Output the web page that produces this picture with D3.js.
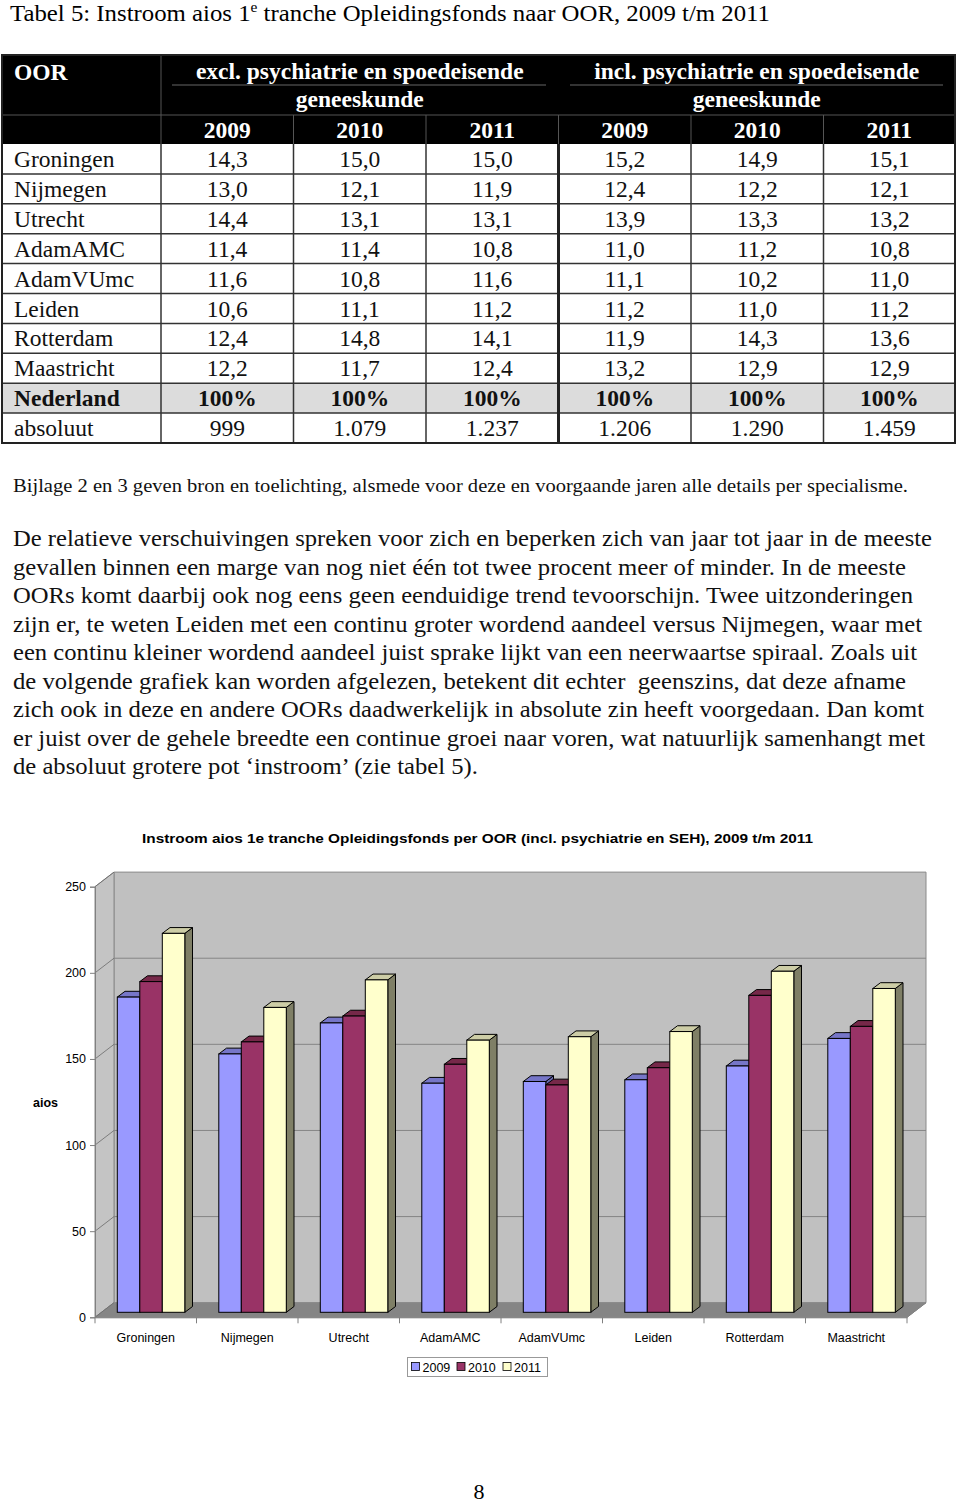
<!DOCTYPE html>
<html><head><meta charset="utf-8">
<script src="https://cdn.jsdelivr.net/npm/d3@7"></script>
<style>
html,body{margin:0;padding:0;background:#fff;}
svg{display:block;}
text{white-space:pre;}
.serif{font-family:"Liberation Serif","Times New Roman",Times,serif;}
.sans{font-family:"Liberation Sans",Arial,Helvetica,sans-serif;}
</style>
</head><body>
<script>
// ---------- DATA ----------
const oorNames = ["Groningen","Nijmegen","Utrecht","AdamAMC","AdamVUmc","Leiden","Rotterdam","Maastricht"];
const yearLabels = ["2009","2010","2011"];
const excl2009 = [14.3,13.0,14.4,11.4,11.6,10.6,12.4,12.2];
const excl2010 = [15.0,12.1,13.1,11.4,10.8,11.1,14.8,11.7];
const excl2011 = [15.0,11.9,13.1,10.8,11.6,11.2,14.1,12.4];
const incl2009 = [15.2,12.4,13.9,11.0,11.1,11.2,11.9,13.2];
const incl2010 = [14.9,12.2,13.3,11.2,10.2,11.0,14.3,12.9];
const incl2011 = [15.1,12.1,13.2,10.8,11.0,11.2,13.6,12.9];
const absoluut = [999,1079,1237,1206,1290,1459];
// chart: instroom aios (incl. psychiatrie en SEH), absolute counts
const aios2009 = [183,150,168,133,134,135,143,159];
const aios2010 = [192,157,172,144,132,142,184,166];
const aios2011 = [220,177,193,158,160,163,198,188];
const yTicks = [0,50,100,150,200,250];

const paraLines = [
 "De relatieve verschuivingen spreken voor zich en beperken zich van jaar tot jaar in de meeste",
 "gevallen binnen een marge van nog niet één tot twee procent meer of minder. In de meeste",
 "OORs komt daarbij ook nog eens geen eenduidige trend tevoorschijn. Twee uitzonderingen",
 "zijn er, te weten Leiden met een continu groter wordend aandeel versus Nijmegen, waar met",
 "een continu kleiner wordend aandeel juist sprake lijkt van een neerwaartse spiraal. Zoals uit",
 "de volgende grafiek kan worden afgelezen, betekent dit echter  geenszins, dat deze afname",
 "zich ook in deze en andere OORs daadwerkelijk in absolute zin heeft voorgedaan. Dan komt",
 "er juist over de gehele breedte een continue groei naar voren, wat natuurlijk samenhangt met",
 "de absoluut grotere pot ‘instroom’ (zie tabel 5)."
];
const paraEnds = [932,906,913,922,917,906,924,925,478];

// ---------- SETUP ----------
const W = 960, H = 1505;
const svg = d3.select("body").append("svg").attr("width", W).attr("height", H);
svg.append("rect").attr("width", W).attr("height", H).attr("fill", "#fff");

const nl = d3.formatLocale({decimal: ",", thousands: ".", grouping: [3], currency: ["€", ""]});
const fPct = nl.format(".1f");
const fAbs = nl.format(",d");

// ---------- TITLE ----------
const t = svg.append("text").attr("class", "serif").attr("x", 10).attr("y", 21)
  .attr("font-size", 22.5).attr("fill", "#000")
  .attr("textLength", 760).attr("lengthAdjust", "spacingAndGlyphs");
t.append("tspan").text("Tabel 5: Instroom aios 1");
t.append("tspan").attr("font-size", 14).attr("dy", -9).text("e");
t.append("tspan").attr("dy", 9).text(" tranche Opleidingsfonds naar OOR, 2009 t/m 2011");

// ---------- TABLE ----------
const colX = [2,161,293.5,426,558.5,691,823.5,955];
const tTop = 55, tSplit = 115, dataTop = 144, rowH = 29.9;
const nRows = oorNames.length + 2;
const tBottom = dataTop + rowH * nRows;
const table = svg.append("g");

table.append("rect").attr("x", colX[0]).attr("y", tTop).attr("width", colX[7]-colX[0]).attr("height", dataTop - tTop).attr("fill", "#000");
table.append("line").attr("x1", colX[1]).attr("x2", colX[1]).attr("y1", tTop).attr("y2", dataTop).attr("stroke", "#555").attr("stroke-width", 1);
table.append("line").attr("x1", colX[0]).attr("x2", colX[7]).attr("y1", tSplit).attr("y2", tSplit).attr("stroke", "#555").attr("stroke-width", 1);
[2,3,4,5,6].forEach(i => table.append("line").attr("x1", colX[i]).attr("x2", colX[i]).attr("y1", tSplit).attr("y2", dataTop).attr("stroke", "#555").attr("stroke-width", 1));
table.append("line").attr("x1", 172).attr("x2", 546).attr("y1", 85).attr("y2", 85).attr("stroke", "#666").attr("stroke-width", 1);
table.append("line").attr("x1", 570).attr("x2", 943).attr("y1", 85).attr("y2", 85).attr("stroke", "#666").attr("stroke-width", 1);

function htext(x, y, s, anchor) {
  table.append("text").attr("class", "serif").attr("x", x).attr("y", y).attr("text-anchor", anchor || "middle")
    .attr("font-size", 23.5).attr("font-weight", "bold").attr("fill", "#fff").text(s);
}
htext(14, 80, "OOR", "start");
htext((colX[1]+colX[4])/2, 79, "excl. psychiatrie en spoedeisende");
htext((colX[1]+colX[4])/2, 107, "geneeskunde");
htext((colX[4]+colX[7])/2, 79, "incl. psychiatrie en spoedeisende");
htext((colX[4]+colX[7])/2, 107, "geneeskunde");
for (let i = 0; i < 6; i++) htext((colX[i+1]+colX[i+2])/2, 138, yearLabels[i % 3]);

table.append("rect").attr("x", colX[0]).attr("y", dataTop + rowH*8).attr("width", colX[7]-colX[0]).attr("height", rowH).attr("fill", "#dcdcdc");

const cols = [excl2009, excl2010, excl2011, incl2009, incl2010, incl2011];
function cell(x, y, s, anchor, bold) {
  table.append("text").attr("class", "serif").attr("x", x).attr("y", y).attr("text-anchor", anchor)
    .attr("font-size", 23.5).attr("font-weight", bold ? "bold" : "normal").attr("fill", "#111").text(s);
}
oorNames.forEach((n, r) => {
  const yb = dataTop + rowH*r + 23;
  cell(14, yb, n, "start");
  cols.forEach((c, j) => cell((colX[j+1]+colX[j+2])/2, yb, fPct(c[r]), "middle"));
});
{
  const yb = dataTop + rowH*8 + 23;
  cell(14, yb, "Nederland", "start", true);
  cols.forEach((c, j) => cell((colX[j+1]+colX[j+2])/2, yb, "100%", "middle", true));
  const yb2 = dataTop + rowH*9 + 23;
  cell(14, yb2, "absoluut", "start");
  absoluut.forEach((v, j) => cell((colX[j+1]+colX[j+2])/2, yb2, fAbs(v), "middle"));
}
for (let r = 1; r < nRows; r++) {
  const yy = dataTop + rowH*r;
  table.append("line").attr("x1", colX[0]).attr("x2", colX[7]).attr("y1", yy).attr("y2", yy).attr("stroke", "#333").attr("stroke-width", 1.5);
}
[1,2,3,5,6].forEach(i => table.append("line").attr("x1", colX[i]).attr("x2", colX[i]).attr("y1", dataTop).attr("y2", tBottom).attr("stroke", "#333").attr("stroke-width", 1.5));
table.append("line").attr("x1", colX[4]).attr("x2", colX[4]).attr("y1", dataTop).attr("y2", tBottom).attr("stroke", "#222").attr("stroke-width", 3);
table.append("rect").attr("x", colX[0]).attr("y", tTop).attr("width", colX[7]-colX[0]).attr("height", tBottom - tTop)
  .attr("fill", "none").attr("stroke", "#222").attr("stroke-width", 2);

// ---------- TEXT ----------
svg.append("text").attr("class", "serif").attr("x", 13).attr("y", 492).attr("font-size", 18.5).attr("fill", "#111")
  .attr("textLength", 895).attr("lengthAdjust", "spacingAndGlyphs")
  .text("Bijlage 2 en 3 geven bron en toelichting, alsmede voor deze en voorgaande jaren alle details per specialisme.");
paraLines.forEach((s, i) => {
  svg.append("text").attr("class", "serif").attr("x", 13).attr("y", 546 + i*28.5).attr("font-size", 23).attr("fill", "#111")
    .attr("textLength", paraEnds[i] - 13).attr("lengthAdjust", "spacingAndGlyphs").text(s);
});

// ---------- CHART ----------
const chart = svg.append("g");
chart.append("text").attr("class", "sans").attr("x", 142).attr("y", 843).attr("font-size", 13.5).attr("font-weight", "bold")
  .attr("fill", "#000").attr("textLength", 671).attr("lengthAdjust", "spacingAndGlyphs")
  .text("Instroom aios 1e tranche Opleidingsfonds per OOR (incl. psychiatrie en SEH), 2009 t/m 2011");

const y = d3.scaleLinear().domain([0, 250]).range([1317.3, 886.7]);
const x = d3.scaleBand().domain(oorNames).range([95, 907]).paddingInner(0).paddingOuter(0);
const x1 = d3.scaleBand().domain(yearLabels).range([17, 84.5]).padding(0);
const DX = 19, DY = -14.6;
const xL = x.range()[0], xR = x.range()[1];
const y0 = y(0), yTop = y(250);

chart.append("polygon").attr("points", [[xL+DX, yTop+DY],[xR+DX, yTop+DY],[xR+DX, y0+DY],[xL+DX, y0+DY]].join(" "))
  .attr("fill", "#c0c0c0").attr("stroke", "#8a8a8a").attr("stroke-width", 1);
chart.append("polygon").attr("points", [[xL, yTop],[xL+DX, yTop+DY],[xL+DX, y0+DY],[xL, y0]].join(" "))
  .attr("fill", "#c4c4c4").attr("stroke", "#8a8a8a").attr("stroke-width", 1);
chart.append("polygon").attr("points", [[xL, y0],[xR, y0],[xR+DX, y0+DY],[xL+DX, y0+DY]].join(" "))
  .attr("fill", "#858585").attr("stroke", "#8a8a8a").attr("stroke-width", 1);

yTicks.forEach(v => {
  if (v > 0 && v < 250) {
    chart.append("line").attr("x1", xL+DX).attr("x2", xR+DX).attr("y1", y(v)+DY).attr("y2", y(v)+DY).attr("stroke", "#858585").attr("stroke-width", 1);
  }
  chart.append("line").attr("x1", xL).attr("x2", xL+DX).attr("y1", y(v)).attr("y2", y(v)+DY).attr("stroke", "#6a6a6a").attr("stroke-width", 0.8);
});

const yAxis = d3.axisLeft(y).tickValues(yTicks).tickSize(5).tickPadding(4).tickFormat(d3.format("d"));
const yg = chart.append("g").attr("transform", `translate(${xL},0)`).call(yAxis);
yg.attr("font-family", null);
yg.select(".domain").attr("stroke", "#808080");
yg.selectAll(".tick line").attr("stroke", "#808080");
yg.selectAll(".tick text").attr("class", "sans").attr("font-size", 12.5).attr("fill", "#000");

const xAxis = d3.axisBottom(x).tickSize(0).tickPadding(13);
const xg = chart.append("g").attr("transform", `translate(0,${y0})`).call(xAxis);
xg.attr("font-family", null);
xg.select(".domain").attr("stroke", "#808080");
xg.selectAll(".tick text").attr("class", "sans").attr("font-size", 12.5).attr("fill", "#000").attr("dy", "0.9em");
const bounds = oorNames.map(n => x(n)).concat([xR]);
bounds.forEach(b => chart.append("line").attr("x1", b).attr("x2", b).attr("y1", y0).attr("y2", y0+6).attr("stroke", "#808080"));
chart.append("line").attr("x1", xR).attr("x2", xR+DX).attr("y1", y0).attr("y2", y0+DY).attr("stroke", "#808080");

chart.append("text").attr("class", "sans").attr("x", 33).attr("y", 1107).attr("font-size", 12.5).attr("font-weight", "bold").text("aios");

const series = [aios2009, aios2010, aios2011];
const front = ["#9999ff", "#993366", "#ffffcc"];
const topC = ["#7676c8", "#762849", "#cdcda6"];
const sideC = ["#6666aa", "#66223f", "#7f7f66"];
const bx = 5.3, by = -5, bdx = 7.7, bdy = -5.8;
const bw = x1.bandwidth();
oorNames.forEach((n, i) => {
  const g = chart.append("g");
  yearLabels.forEach((yr, s) => {
    const v = series[s][i];
    const X0 = x(n) + x1(yr) + bx, X1 = X0 + bw;
    const YT = y(v) + by, YB = y0 + by;
    g.append("polygon").attr("points", [[X1, YT],[X1+bdx, YT+bdy],[X1+bdx, YB+bdy],[X1, YB]].join(" "))
      .attr("fill", sideC[s]).attr("stroke", "#000").attr("stroke-width", 1).attr("stroke-linejoin", "round");
    g.append("polygon").attr("points", [[X0, YT],[X0+bdx, YT+bdy],[X1+bdx, YT+bdy],[X1, YT]].join(" "))
      .attr("fill", topC[s]).attr("stroke", "#000").attr("stroke-width", 1).attr("stroke-linejoin", "round");
    g.append("rect").attr("x", X0).attr("y", YT).attr("width", bw).attr("height", YB - YT)
      .attr("fill", front[s]).attr("stroke", "#000").attr("stroke-width", 1);
  });
});

const lg = chart.append("g");
lg.append("rect").attr("x", 407.5).attr("y", 1357.5).attr("width", 140).attr("height", 19).attr("fill", "#fff").attr("stroke", "#999");
const legX = [411.5, 457, 503];
yearLabels.forEach((yr, s) => {
  lg.append("rect").attr("x", legX[s]).attr("y", 1362.5).attr("width", 8).attr("height", 8).attr("fill", front[s]).attr("stroke", "#000").attr("stroke-width", 0.8);
  lg.append("text").attr("class", "sans").attr("x", legX[s] + 11).attr("y", 1371.5).attr("font-size", 12.5).attr("fill", "#000").text(yr);
});

svg.append("text").attr("class", "serif").attr("x", 479).attr("y", 1499).attr("text-anchor", "middle").attr("font-size", 22).attr("fill", "#000").text("8");
</script>
</body></html>
